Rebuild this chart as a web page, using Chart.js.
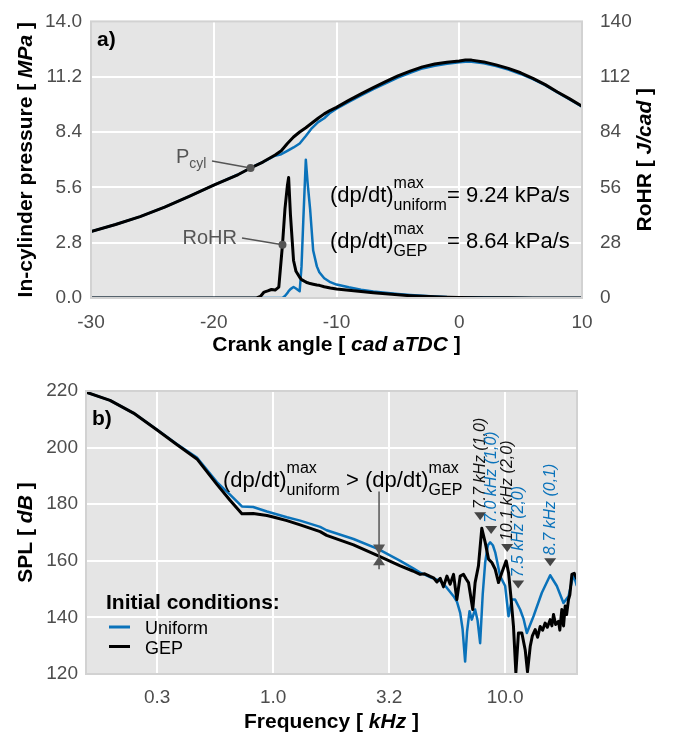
<!DOCTYPE html>
<html>
<head>
<meta charset="utf-8">
<script src="https://cdn.jsdelivr.net/npm/chart.js@4.4.1/dist/chart.umd.min.js"></script>
<style>
  body { margin: 0; background: #fff; }
  #quadro { position: relative; width: 675px; height: 736px; }
  canvas { position: absolute; left: 0; }
</style>
</head>
<body>
<div id="quadro">
  <canvas id="graf-a" width="675" height="362" style="top:0"></canvas>
  <canvas id="graf-b" width="675" height="374" style="top:362px"></canvas>
</div>
<script>
// painel a) pressao no cilindro e taxa de liberacao de calor
const anguloPressao = [-30, -28, -26, -24, -22, -20, -18, -17, -16, -15, -14.5, -14, -13.5, -13, -12.5, -12, -11.5, -11, -10.5, -10, -9, -8, -7, -6, -5, -4, -3, -2, -1, 0, 0.5, 1, 2, 3, 4, 5, 6, 7, 8, 9, 10]
const pressaoGep = [3.36, 3.72, 4.12, 4.6, 5.14, 5.71, 6.25, 6.58, 6.88, 7.24, 7.45, 7.82, 8.15, 8.4, 8.62, 8.86, 9.1, 9.32, 9.5, 9.65, 10.0, 10.33, 10.65, 10.95, 11.24, 11.48, 11.7, 11.84, 11.93, 12.0, 12.05, 12.04, 11.95, 11.8, 11.62, 11.4, 11.12, 10.8, 10.43, 10.08, 9.71]
const pressaoUniforme = [3.36, 3.72, 4.12, 4.6, 5.14, 5.71, 6.25, 6.58, 6.88, 7.2, 7.28, 7.45, 7.62, 7.82, 8.2, 8.6, 8.9, 9.1, 9.38, 9.58, 9.93, 10.26, 10.57, 10.86, 11.15, 11.4, 11.62, 11.76, 11.86, 11.93, 11.96, 11.96, 11.88, 11.74, 11.56, 11.34, 11.08, 10.77, 10.41, 10.05, 9.69]

const anguloRohr = [-30, -16.5, -16.2, -15.9, -15.6, -15.3, -15, -14.7, -14.4, -14.2, -14, -13.9, -13.75, -13.5, -13.3, -13, -12.85, -12.7, -12.5, -12.35, -12.15, -11.9, -11.6, -11.4, -11, -10.5, -10, -9, -8, -7, -6, -5, -4, -3, -2, -1, 0, 2, 4, 6, 8, 10]
const rohrGep = [0, 0, 0.8, 3.0, 3.6, 4.3, 4.0, 5.5, 27, 45, 57, 61, 42, 19, 13.5, 10.5, 9.3, 8.8, 8.1, 7.7, 7.3, 7.0, 6.6, 6.4, 5.7, 5.1, 4.6, 3.9, 3.3, 2.7, 2.1, 1.6, 1.2, 0.9, 0.6, 0.4, 0.3, 0.15, 0.1, 0.05, 0, 0]
const rohrUniforme = [0, 0, 0, 0, 0, 0, 0, 0, 0, 1.0, 2.5, 3.5, 4.5, 5.6, 4.8, 3.4, 16, 40, 70, 58, 45, 24, 16, 13, 10, 8.0, 6.8, 5.4, 4.2, 3.3, 2.6, 2.0, 1.5, 1.1, 0.8, 0.5, 0.4, 0.2, 0.1, 0.05, 0, 0]

const ticksAngulo = [-30, -20, -10, 0, 10]
const ticksPressao = [0, 2.8, 5.6, 8.4, 11.2, 14]
const ticksRohr = [0, 28, 56, 84, 112, 140]

// painel b) nivel de pressao sonora
const freqGep = [0.156, 0.198, 0.25, 0.316, 0.384, 0.469, 0.572, 0.65, 0.733, 0.82, 0.94, 1.0, 1.146, 1.307, 1.594, 1.7, 2.22, 2.84, 3.53, 4.0, 4.3, 4.5, 4.75, 4.91, 5.08, 5.25, 5.42, 5.61, 5.79, 5.99, 6.19, 6.4, 6.61, 6.8, 6.95, 7.25, 7.42, 7.67, 7.93, 8.2, 8.48, 8.76, 9.06, 9.36, 9.67, 10.1, 10.34, 10.58, 10.86, 11.12, 11.41, 11.8, 12.2, 12.48, 12.82, 13.1, 13.47, 13.8, 14.16, 14.5, 14.87, 15.2, 15.63, 15.9, 16.16, 16.5, 16.98, 17.2, 17.55, 17.85, 18.14, 18.4, 18.75, 19.0, 19.39, 19.84, 20.37]
const splGep = [219.6, 216.7, 212.2, 206.2, 201.1, 196.0, 187.0, 181.5, 176.6, 176.7, 176.0, 175.5, 174.2, 172.7, 170.3, 169.0, 165.6, 161.7, 158.2, 156.4, 155.2, 155.4, 154.5, 154.0, 152.5, 153.8, 150.8, 154.6, 151.7, 155.2, 146.3, 154.6, 155.2, 153.5, 152.3, 142.8, 152.3, 158.2, 171.5, 166.5, 160.6, 159.4, 157.0, 152.3, 155.8, 160.0, 155.8, 147.5, 136.8, 120.5, 134.5, 134.5, 128.5, 120.8, 129.7, 133.5, 135.7, 133.0, 136.8, 135.5, 138.0, 136.5, 139.2, 137.0, 141.0, 137.5, 138.6, 135.5, 142.8, 137.0, 144.0, 141.0, 146.3, 148.0, 155.2, 155.6, 153.5]
const freqUniforme = [0.156, 0.198, 0.25, 0.316, 0.384, 0.469, 0.572, 0.65, 0.733, 0.82, 0.94, 1.146, 1.307, 1.594, 1.7, 2.22, 2.84, 3.53, 4.0, 4.3, 4.75, 5.25, 5.6, 5.99, 6.2, 6.4, 6.55, 6.72, 6.85, 7.02, 7.18, 7.42, 7.6, 7.8, 8.0, 8.2, 8.42, 8.62, 8.85, 9.06, 9.51, 10.0, 10.34, 10.68, 11.04, 11.6, 12.0, 12.4, 13.25, 14.39, 15.63, 16.7, 17.84, 18.75, 19.7, 20.37]
const splUniforme = [219.6, 216.7, 212.2, 206.3, 201.3, 196.5, 187.8, 183.5, 179.2, 179.0, 177.4, 175.4, 174.2, 172.0, 170.8, 167.7, 164.1, 160.0, 157.4, 155.8, 154.2, 152.9, 150.5, 147.5, 145.5, 141.6, 136.0, 124.4, 135.0, 142.2, 139.2, 142.8, 139.0, 130.9, 148.0, 159.4, 165.5, 166.5, 165.5, 163.0, 154.6, 151.1, 140.4, 146.3, 146.3, 142.8, 139.5, 134.5, 140.4, 148.7, 154.9, 151.1, 145.1, 147.5, 155.2, 151.1]

const ticksFreq = [0.3162, 1, 3.162, 10]
const rotulosFreq = ['0.3', '1.0', '3.2', '10.0']
const ticksSpl = [120, 140, 160, 180, 200, 220]

// modos acusticos marcados nos picos
const picosFreq = [7.8, 8.7, 10.2, 11.38, 15.63]
const picosSpl = [174.3, 169.5, 163.1, 150.2, 158.1]
const picosTexto = ['7.7 kHz (1,0)', '7.0 kHz (1,0)', '10.1 kHz (2,0)', '7.5 kHz (2,0)', '8.7 kHz (0,1)']
const picosSerie = ['GEP', 'Uniform', 'GEP', 'Uniform', 'Uniform']

const corAzul = '#0a72ba'
const corPreta = '#000000'
const corCinza = '#555555'
const FONTE = '"Liberation Sans", Arial, Helvetica, sans-serif'
const fonte = (estilo, tam) => `${estilo} ${tam}px ${FONTE}`

const pares = (xs, ys) => xs.map((x, i) => ({ x, y: ys[i] }))

function interpolar(xs, ys, x) {
  for (let i = 1; i < xs.length; i++) {
    if (xs[i] >= x) {
      const t = (x - xs[i - 1]) / (xs[i] - xs[i - 1])
      return ys[i - 1] + t * (ys[i] - ys[i - 1])
    }
  }
  return ys[ys.length - 1]
}

// texto com partes em fontes diferentes; {sup, sub} empilha expoente e indice
function desenharRico(ctx, partes, x, y, alinhar) {
  const largura = p => {
    ctx.font = p.f
    if (p.sup) return Math.max(ctx.measureText(p.sup).width, ctx.measureText(p.sub).width)
    return ctx.measureText(p.t).width
  }
  const total = partes.reduce((s, p) => s + largura(p), 0)
  let cx = alinhar === 'center' ? x - total / 2 : x
  ctx.textAlign = 'left'
  ctx.textBaseline = 'alphabetic'
  partes.forEach(p => {
    const w = largura(p)
    ctx.font = p.f
    if (p.sup) {
      ctx.fillText(p.sup, cx, y - 14)
      ctx.fillText(p.sub, cx, y + 8)
    } else {
      ctx.fillText(p.t, cx, y + (p.dy || 0))
    }
    cx += w
  })
  return cx
}

function textoVertical(ctx, partes, x, y) {
  ctx.save()
  ctx.translate(x, y)
  ctx.rotate(-Math.PI / 2)
  desenharRico(ctx, partes, 0, 0, 'center')
  ctx.restore()
}

function tituloEixo(rotulo, unidade) {
  return [
    { t: rotulo + ' [ ', f: fonte('bold', 21) },
    { t: unidade, f: fonte('italic bold', 21) },
    { t: ' ]', f: fonte('bold', 21) }
  ]
}

const dpdt = (sub) => [
  { t: '(dp/dt)', f: fonte('normal', 22) },
  { sup: 'max', sub, f: fonte('normal', 16) }
]

const pluginFundo = {
  id: 'fundo',
  beforeDraw(chart) {
    const { ctx, chartArea: a } = chart
    ctx.save()
    ctx.fillStyle = '#e5e5e5'
    ctx.fillRect(a.left, a.top, a.right - a.left, a.bottom - a.top)
    ctx.restore()
  },
  afterDatasetsDraw(chart) {
    const { ctx, chartArea: a } = chart
    ctx.save()
    ctx.strokeStyle = '#d2d2d2'
    ctx.lineWidth = 2
    ctx.strokeRect(a.left, a.top, a.right - a.left, a.bottom - a.top)
    ctx.restore()
  }
}

function marcador(ctx, x, y) {
  ctx.beginPath()
  ctx.arc(x, y, 4, 0, Math.PI * 2)
  ctx.fill()
}

const pluginA = {
  id: 'anotacoesA',
  afterDraw(chart) {
    const { ctx, chartArea: a, scales } = chart
    ctx.save()
    ctx.fillStyle = '#000'
    desenharRico(ctx, tituloEixo('Crank angle', 'cad aTDC'), (a.left + a.right) / 2, 351, 'center')
    textoVertical(ctx, tituloEixo('In-cylinder pressure', 'MPa'), 32, (a.top + a.bottom) / 2)
    textoVertical(ctx, tituloEixo('RoHR', 'J/cad'), 651, (a.top + a.bottom) / 2)

    ctx.font = fonte('bold', 21)
    ctx.fillText('a)', a.left + 6, 46)

    // P_cyl e RoHR com linha de chamada
    ctx.fillStyle = corCinza
    ctx.strokeStyle = corCinza
    ctx.lineWidth = 1.5
    const px = scales.x.getPixelForValue(-17)
    const py = scales.y.getPixelForValue(interpolar(anguloPressao, pressaoGep, -17))
    desenharRico(ctx, [{ t: 'P', f: fonte('normal', 20) }, { t: 'cyl', f: fonte('normal', 14), dy: 5 }], 176, 163)
    ctx.beginPath(); ctx.moveTo(212, 161); ctx.lineTo(px, py); ctx.stroke()
    marcador(ctx, px, py)

    const rx = scales.x.getPixelForValue(-14.4)
    const ry = scales.y2.getPixelForValue(interpolar(anguloRohr, rohrGep, -14.4))
    ctx.font = fonte('normal', 20)
    ctx.textAlign = 'right'
    ctx.fillText('RoHR', 237, 244)
    ctx.beginPath(); ctx.moveTo(242, 238); ctx.lineTo(rx, ry); ctx.stroke()
    marcador(ctx, rx, ry)

    // taxas maximas de subida de pressao
    ctx.fillStyle = '#000'
    const xIgual = desenharRico(ctx, dpdt('uniform'), 330, 202)
    desenharRico(ctx, [{ t: '= 9.24 kPa/s', f: fonte('normal', 22) }], xIgual, 202)
    desenharRico(ctx, dpdt('GEP'), 330, 248)
    desenharRico(ctx, [{ t: '= 8.64 kPa/s', f: fonte('normal', 22) }], xIgual, 248)
    ctx.restore()
  }
}

function triangulo(ctx, x, yPonta, altura) {
  ctx.beginPath()
  ctx.moveTo(x - 6, yPonta - altura)
  ctx.lineTo(x + 6, yPonta - altura)
  ctx.lineTo(x, yPonta)
  ctx.closePath()
  ctx.fill()
}

const pluginB = {
  id: 'anotacoesB',
  afterDraw(chart) {
    const { ctx, chartArea: a, scales } = chart
    ctx.save()
    ctx.fillStyle = '#000'
    desenharRico(ctx, tituloEixo('Frequency', 'kHz'), (a.left + a.right) / 2, 366, 'center')
    textoVertical(ctx, tituloEixo('SPL', 'dB'), 32, (a.top + a.bottom) / 2)

    ctx.font = fonte('bold', 21)
    ctx.fillText('b)', a.left + 6, 63)

    // comparacao entre as duas condicoes
    const fim = desenharRico(ctx, dpdt('uniform'), 223, 125)
    const fim2 = desenharRico(ctx, [{ t: ' > ', f: fonte('normal', 22) }], fim, 125)
    desenharRico(ctx, dpdt('GEP'), fim2, 125)

    const fx = 2.86
    const xm = scales.x.getPixelForValue(fx)
    const yAzul = scales.y.getPixelForValue(interpolar(freqUniforme, splUniforme, fx))
    const yPreto = scales.y.getPixelForValue(interpolar(freqGep, splGep, fx))
    ctx.strokeStyle = corCinza
    ctx.fillStyle = corCinza
    ctx.lineWidth = 1.5
    ctx.beginPath()
    ctx.moveTo(xm, scales.y.getPixelForValue(184.5))
    ctx.lineTo(xm, scales.y.getPixelForValue(157))
    ctx.stroke()
    triangulo(ctx, xm, yAzul + 5, 10)
    ctx.beginPath()
    ctx.moveTo(xm - 6, yPreto + 9)
    ctx.lineTo(xm + 6, yPreto + 9)
    ctx.lineTo(xm, yPreto)
    ctx.closePath()
    ctx.fill()

    // modos nos picos
    picosFreq.forEach((f, i) => {
      const x = scales.x.getPixelForValue(f)
      const y = scales.y.getPixelForValue(picosSpl[i])
      ctx.fillStyle = '#444'
      triangulo(ctx, x, y, 8)
      ctx.save()
      ctx.translate(x, y - 11)
      ctx.rotate(-Math.PI / 2)
      ctx.font = fonte('italic', 16)
      ctx.textAlign = 'left'
      ctx.textBaseline = 'middle'
      ctx.fillStyle = picosSerie[i] === 'GEP' ? '#111' : corAzul
      ctx.fillText(picosTexto[i], 0, 0)
      ctx.restore()
    })

    // legenda
    const lx = a.left + 20
    ctx.fillStyle = '#000'
    ctx.font = fonte('bold', 21)
    ctx.textAlign = 'left'
    ctx.textBaseline = 'alphabetic'
    ctx.fillText('Initial conditions:', lx, 247)
    const itens = chart.data.datasets.slice().sort((p, q) => q.order - p.order)
    itens.forEach((d, i) => {
      const y = 265 + i * 19.5
      ctx.strokeStyle = d.borderColor
      ctx.lineWidth = 3
      ctx.beginPath(); ctx.moveTo(lx + 3, y); ctx.lineTo(lx + 24, y); ctx.stroke()
      ctx.fillStyle = '#000'
      ctx.font = fonte('normal', 18)
      ctx.fillText(d.label, lx + 39, y + 7)
    })
    ctx.restore()
  }
}

const estiloTicks = { font: { family: FONTE, size: 19 }, color: '#4d4d4d', autoSkip: false, maxRotation: 0 }
const grade = { color: '#ffffff', lineWidth: 2, drawTicks: false }
const linha = (label, dados, cor, eixo) => ({
  label,
  data: dados,
  borderColor: cor,
  backgroundColor: 'transparent',
  fill: false,
  borderWidth: cor === corPreta ? 3 : 2.5,
  yAxisID: eixo,
  order: cor === corPreta ? 0 : 1
})

new Chart(document.getElementById('graf-a'), {
  type: 'line',
  data: {
    datasets: [
      linha('GEP', pares(anguloPressao, pressaoGep), corPreta, 'y'),
      linha('Uniform', pares(anguloPressao, pressaoUniforme), corAzul, 'y'),
      linha('GEP', pares(anguloRohr, rohrGep), corPreta, 'y2'),
      linha('Uniform', pares(anguloRohr, rohrUniforme), corAzul, 'y2')
    ]
  },
  options: {
    responsive: false,
    animation: false,
    devicePixelRatio: 1,
    layout: { padding: { top: 15, left: 0, right: 0, bottom: 0 } },
    elements: { point: { radius: 0 }, line: { tension: 0, borderJoinStyle: 'round' } },
    plugins: { legend: { display: false }, tooltip: { enabled: false } },
    scales: {
      x: {
        type: 'linear', min: -30, max: 10,
        afterBuildTicks: s => { s.ticks = ticksAngulo.map(v => ({ value: v })) },
        afterFit: s => { s.height = 64 },
        grid: grade, border: { display: false },
        ticks: { ...estiloTicks, padding: 13, callback: v => String(v) }
      },
      y: {
        min: 0, max: 14,
        afterBuildTicks: s => { s.ticks = ticksPressao.map(v => ({ value: v })) },
        afterFit: s => { s.width = 91 },
        grid: grade, border: { display: false },
        ticks: { ...estiloTicks, padding: 9, callback: v => v.toFixed(1) }
      },
      y2: {
        position: 'right', min: 0, max: 140,
        afterBuildTicks: s => { s.ticks = ticksRohr.map(v => ({ value: v })) },
        afterFit: s => { s.width = 93 },
        grid: { display: false }, border: { display: false },
        ticks: { ...estiloTicks, padding: 10, callback: v => String(v) }
      }
    }
  },
  plugins: [pluginFundo, pluginA]
})

new Chart(document.getElementById('graf-b'), {
  type: 'line',
  data: {
    datasets: [
      linha('GEP', pares(freqGep, splGep), corPreta, 'y'),
      linha('Uniform', pares(freqUniforme, splUniforme), corAzul, 'y')
    ]
  },
  options: {
    responsive: false,
    animation: false,
    devicePixelRatio: 1,
    layout: { padding: { top: 29, left: 0, right: 98, bottom: 0 } },
    elements: { point: { radius: 0 }, line: { tension: 0, borderJoinStyle: 'round' } },
    plugins: { legend: { display: false }, tooltip: { enabled: false } },
    scales: {
      x: {
        type: 'logarithmic', min: 0.156, max: 20.4,
        afterBuildTicks: s => { s.ticks = ticksFreq.map(v => ({ value: v })) },
        afterFit: s => { s.height = 62 },
        grid: grade, border: { display: false },
        ticks: { ...estiloTicks, padding: 12, callback: (v, i) => rotulosFreq[i] }
      },
      y: {
        min: 120, max: 220,
        afterBuildTicks: s => { s.ticks = ticksSpl.map(v => ({ value: v })) },
        afterFit: s => { s.width = 86 },
        grid: grade, border: { display: false },
        ticks: { ...estiloTicks, padding: 8, callback: v => String(v) }
      }
    }
  },
  plugins: [pluginFundo, pluginB]
})
</script>
</body>
</html>
